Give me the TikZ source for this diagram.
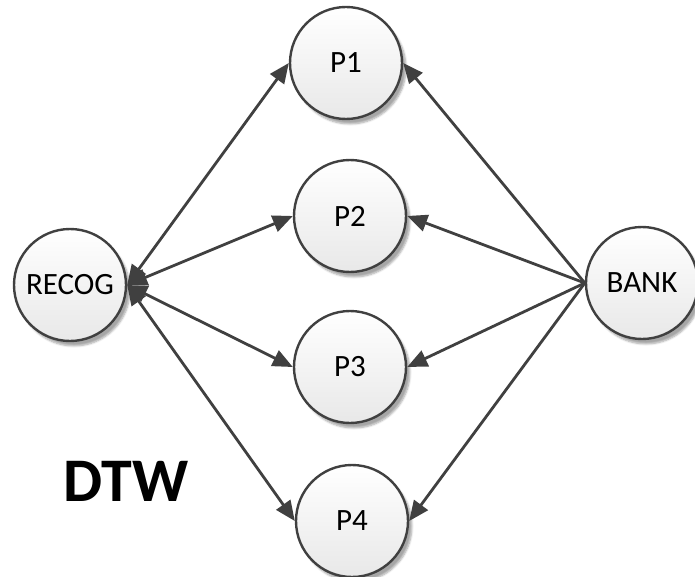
\documentclass[tikz,border=0pt]{standalone}
\usepackage{fontspec}
\setmainfont{Carlito}
\usetikzlibrary{arrows.meta,shadows.blur}
\definecolor{edge}{HTML}{404040}
\tikzset{
  state/.style={circle, draw=edge, line width=2.4pt, minimum size=112pt, inner sep=0pt,
    top color=white, bottom color=black!9,
    blur shadow={shadow xshift=4pt, shadow yshift=-5pt, shadow blur steps=6, shadow opacity=35},
    font=\fontsize{31}{33}\selectfont},
  link/.style={draw=edge, line width=2.8pt, -{Triangle[length=20pt,width=17pt]}},
  biglink/.style={link, {Triangle[length=20pt,width=17pt]}-{Triangle[length=20pt,width=17pt]}}
}
\begin{document}
\begin{tikzpicture}[x=1pt,y=-1pt]
  \useasboundingbox (0,0) rectangle (695,577);
  \node[state] (recog) at (70,285) {RECOG};
  \node[state] (p1) at (346,63) {P1};
  \node[state] (p2) at (350,216) {P2};
  \node[state] (p3) at (350,367) {P3};
  \node[state] (p4) at (352,521) {P4};
  \node[state] (bank) at (642,283) {BANK};
  \node[font=\fontsize{62}{64}\bfseries\selectfont] (dtw) at (126,481) {DTW};
  % recognizer exchanges with each pattern
  \foreach \p in {p1,p2,p3,p4}
    \draw[biglink] (recog.east) -- (\p.west);
  % bank feeds each pattern
  \foreach \p in {p1,p2,p3,p4}
    \draw[link] (bank.west) -- (\p.east);
\end{tikzpicture}
\end{document}
